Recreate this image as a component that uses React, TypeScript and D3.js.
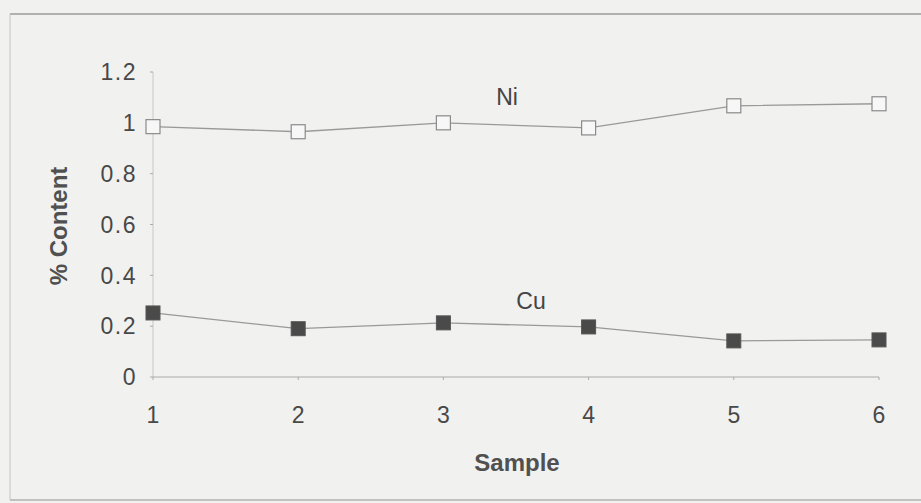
import React from "react";
import * as d3 from "d3";

const samples = [1, 2, 3, 4, 5, 6];
const niValues = [0.985, 0.965, 1.0, 0.98, 1.067, 1.075];
const cuValues = [0.252, 0.19, 0.213, 0.197, 0.142, 0.146];
const yTicks = [0, 0.2, 0.4, 0.6, 0.8, 1, 1.2];

const W = 921;
const H = 503;
const font = "'Liberation Sans', Arial, sans-serif";

const App: React.FC = () => {
  const x = d3.scaleLinear().domain([1, 6]).range([153, 879]);
  const y = d3.scaleLinear().domain([0, 1.2]).range([377, 72]);

  const line = d3
    .line<number>()
    .x((_, i) => x(samples[i]))
    .y((d) => y(d));

  const m = 14;

  return (
    <svg
      width={W}
      height={H}
      style={{ position: "absolute", left: 0, top: 0, background: "#f1f1f0" }}
    >
      {/* frame */}
      <line x1={10} x2={W} y1={14} y2={14} stroke="#9a9a9a" strokeWidth={1.5} />
      <line x1={10} x2={10} y1={14} y2={500} stroke="#c4c4c4" strokeWidth={1} />
      <line x1={10} x2={W} y1={500} y2={500} stroke="#b0b0b0" strokeWidth={1.5} />

      {/* y axis */}
      <line x1={x(1)} x2={x(1)} y1={y(1.2)} y2={y(0)} stroke="#c8c8c8" strokeWidth={1} />
      {yTicks.map((t) => (
        <g key={t}>
          <line x1={x(1) - 3} x2={x(1)} y1={y(t)} y2={y(t)} stroke="#aaa" />
          <text
            x={137}
            y={y(t)}
            dy="0.36em"
            textAnchor="end"
            fontFamily={font}
            fontSize={23}
            letterSpacing={1.5}
            fill="#484848"
          >
            {String(t)}
          </text>
        </g>
      ))}

      {/* x axis */}
      <line x1={x(1)} x2={x(6)} y1={y(0)} y2={y(0)} stroke="#aaa" strokeWidth={1} />
      {samples.map((s) => (
        <g key={s}>
          <line x1={x(s)} x2={x(s)} y1={y(0)} y2={y(0) + 3} stroke="#aaa" />
          <text
            x={x(s)}
            y={415}
            dy="0.36em"
            textAnchor="middle"
            fontFamily={font}
            fontSize={23}
            fill="#484848"
          >
            {s}
          </text>
        </g>
      ))}

      {/* axis titles */}
      <text
        x={517}
        y={462}
        dy="0.36em"
        textAnchor="middle"
        fontFamily={font}
        fontSize={24}
        fontWeight="bold"
        fill="#505050"
      >
        Sample
      </text>
      <text
        transform="translate(58,226) rotate(-90)"
        dy="0.36em"
        textAnchor="middle"
        fontFamily={font}
        fontSize={24}
        fontWeight="bold"
        fill="#505050"
      >
        % Content
      </text>

      {/* Ni series */}
      <path d={line(niValues) ?? ""} fill="none" stroke="#999" strokeWidth={1.3} />
      {niValues.map((v, i) => (
        <rect
          key={`ni${i}`}
          x={x(samples[i]) - m / 2}
          y={y(v) - m / 2}
          width={m}
          height={m}
          fill="#f7f7f7"
          stroke="#8a8a8a"
          strokeWidth={1.2}
        />
      ))}

      {/* Cu series */}
      <path d={line(cuValues) ?? ""} fill="none" stroke="#999" strokeWidth={1.3} />
      {cuValues.map((v, i) => (
        <rect
          key={`cu${i}`}
          x={x(samples[i]) - m / 2}
          y={y(v) - m / 2}
          width={m}
          height={m}
          fill="#4a4a4a"
          stroke="#555"
          strokeWidth={1}
        />
      ))}

      <text x={507} y={97} dy="0.36em" textAnchor="middle" fontFamily={font} fontSize={23} fill="#444">
        Ni
      </text>
      <text x={531} y={301} dy="0.36em" textAnchor="middle" fontFamily={font} fontSize={23} fill="#444">
        Cu
      </text>
    </svg>
  );
};

export default App;
